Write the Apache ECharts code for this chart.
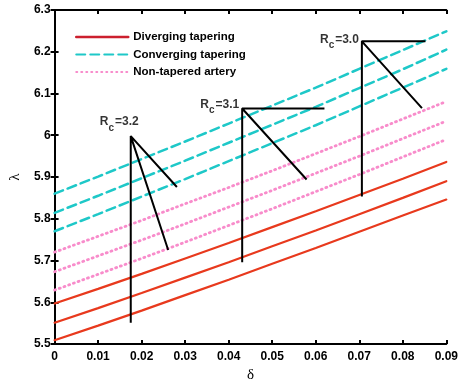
<!DOCTYPE html>
<html><head><meta charset="utf-8">
<script src="https://cdn.jsdelivr.net/npm/echarts@6/dist/echarts.min.js"></script>
<style>html,body{margin:0;padding:0;background:#fff}#c{width:461px;height:388px}</style>
</head><body><div id="c"></div>
<script>
var delta = [0, 0.01, 0.02, 0.03, 0.04, 0.05, 0.06, 0.07, 0.08, 0.09];
var xTicks = ['0','0.01','0.02','0.03','0.04','0.05','0.06','0.07','0.08','0.09'];
var yTicks = ['5.5','5.6','5.7','5.8','5.9','6','6.1','6.2','6.3'];
// Diverging tapering (red solid)
var div1 = [5.597, 5.632, 5.668, 5.705, 5.742, 5.780, 5.818, 5.857, 5.896, 5.936];
var div2 = [5.551, 5.586, 5.622, 5.659, 5.696, 5.734, 5.772, 5.811, 5.850, 5.890];
var div3 = [5.509, 5.544, 5.580, 5.617, 5.654, 5.692, 5.730, 5.769, 5.808, 5.846];
// Converging tapering (cyan dashed)
var con1 = [5.860, 5.901, 5.943, 5.985, 6.028, 6.071, 6.114, 6.159, 6.204, 6.249];
var con2 = [5.814, 5.855, 5.897, 5.939, 5.982, 6.025, 6.068, 6.113, 6.158, 6.205];
var con3 = [5.770, 5.811, 5.853, 5.895, 5.938, 5.981, 6.024, 6.069, 6.114, 6.159];
// Non-tapered artery (pink dotted)
var non1 = [5.720, 5.758, 5.796, 5.836, 5.875, 5.915, 5.956, 5.997, 6.039, 6.081];
var non2 = [5.673, 5.711, 5.749, 5.788, 5.828, 5.868, 5.909, 5.950, 5.992, 6.034];
var non3 = [5.629, 5.667, 5.705, 5.744, 5.784, 5.824, 5.865, 5.906, 5.948, 5.990];
// Annotation pointer lines (delta, lambda)
var rc32Lines = [[0.0175, 5.551], [0.0175, 5.998], [0.0281, 5.876], [0.0175, 5.998], [0.0261, 5.725]];
var rc31Lines = [[0.0431, 5.696], [0.0431, 6.064], [0.0620, 6.064], [0.0431, 6.064], [0.0579, 5.894]];
var rc30Lines = [[0.0706, 5.853], [0.0706, 6.225], [0.0852, 6.225], [0.0706, 6.225], [0.0844, 6.065]];
var rcLabels = ['3.2', '3.1', '3.0'];
var rcVertex = [[0.0175, 5.998], [0.0431, 6.064], [0.0706, 6.225]];

var RED = '#e8391d', CYAN = '#1ec8c8', PINK = '#f88ccb';
var NOFILL = {color:'rgba(0,0,0,0)', borderWidth:0, opacity:0};
function pairs(v){ return delta.map(function(d,i){ return [d, v[i]]; }); }
function mk(name, v, color, type, width){
  return {name:name, type:'line', data:pairs(v), symbol:'none', smooth:false,
    lineStyle:{color:color, width:width, type:type, cap:'round'}, itemStyle:{color:color}, z:2};
}
function ann(name, pts){
  return {name:name, type:'line', data:pts, symbol:'none',
    lineStyle:{color:'#000', width:2}, itemStyle:{color:'#000'}, z:3};
}
var labelOffsets = [[8,-14],[-3,-4],[-3,-2]];
var series = [
  mk('Diverging tapering', div1, RED, 'solid', 2.2),
  mk('Diverging tapering', div2, RED, 'solid', 2.2),
  mk('Diverging tapering', div3, RED, 'solid', 2.2),
  mk('Converging tapering', con1, CYAN, [9,5], 2.5),
  mk('Converging tapering', con2, CYAN, [9,5], 2.5),
  mk('Converging tapering', con3, CYAN, [9,5], 2.5),
  mk('Non-tapered artery', non1, PINK, [1,4], 2.8),
  mk('Non-tapered artery', non2, PINK, [1,4], 2.8),
  mk('Non-tapered artery', non3, PINK, [1,4], 2.8),
  ann('a1', rc32Lines), ann('a2', rc31Lines), ann('a3', rc30Lines),
  {name:'labels', type:'scatter', symbolSize:0, z:5,
    data: rcVertex.map(function(p,i){ return {value:p, rc:rcLabels[i],
      label:{offset:labelOffsets[i]}}; }),
    label:{show:true, position:'left', distance:0,
      formatter:function(p){ return '{r|R}{s|c}{r|=' + p.data.rc + '}'; },
      rich:{
        r:{fontFamily:'Liberation Sans', fontWeight:'bold', fontSize:12, color:'#000', lineHeight:16},
        s:{fontFamily:'Liberation Sans', fontWeight:'bold', fontSize:10, color:'#000', padding:[12,1,0,0], lineHeight:16}
      }}
  }
];
var axisFont = {fontFamily:'Liberation Sans', fontWeight:'bold', fontSize:12, color:'#000'};
var chart = echarts.init(document.getElementById('c'), null, {renderer:'canvas'});
chart.setOption({
  animation:false,
  backgroundColor:'#fff',
  grid:{left:49, right:13, top:10, bottom:41, containLabel:false},
  legend:{
    left:70, top:26, orient:'vertical', itemWidth:52, itemHeight:10, itemGap:5.5,
    itemStyle:NOFILL,
    textStyle:{fontFamily:'Liberation Sans', fontWeight:'bold', fontSize:11.5, color:'#000'},
    data:[
      {name:'Diverging tapering', itemStyle:NOFILL, lineStyle:{color:'#cc1f2e', width:2.5}},
      {name:'Converging tapering', itemStyle:NOFILL},
      {name:'Non-tapered artery', itemStyle:NOFILL}
    ]
  },
  xAxis:[
    {type:'value', min:0, max:0.09, interval:0.01, position:'bottom',
      name:'δ', nameLocation:'middle', nameGap:24,
      nameTextStyle:{fontFamily:'Liberation Serif', fontSize:15, color:'#000'},
      axisLine:{lineStyle:{color:'#000', width:2}},
      axisTick:{inside:true, length:4, lineStyle:{color:'#000', width:2}},
      axisLabel:Object.assign({margin:7, formatter:function(v){ return xTicks[Math.round(v*100)]; }}, axisFont),
      splitLine:{show:false}},
    {type:'value', min:0, max:0.09, interval:0.01, position:'top',
      axisLine:{lineStyle:{color:'#000', width:2}},
      axisTick:{inside:true, length:4, lineStyle:{color:'#000', width:2}},
      axisLabel:{show:false}, splitLine:{show:false}}
  ],
  yAxis:[
    {type:'value', min:5.5, max:6.3, interval:0.1, position:'left',
      name:'λ', nameLocation:'middle', nameGap:25, nameRotate:90,
      nameTextStyle:{fontFamily:'Liberation Serif', fontSize:15, color:'#000'},
      axisLine:{show:true, lineStyle:{color:'#000', width:2}},
      axisTick:{show:true, inside:true, length:4, lineStyle:{color:'#000', width:2}},
      axisLabel:Object.assign({margin:4, formatter:function(v){ return yTicks[Math.round((v-5.5)*10)]; }}, axisFont),
      splitLine:{show:false}},
    {type:'value', min:5.5, max:6.3, interval:0.1, position:'right',
      axisLine:{show:true, lineStyle:{color:'#000', width:2}},
      axisTick:{show:true, inside:true, length:4, lineStyle:{color:'#000', width:2}},
      axisLabel:{show:false}, splitLine:{show:false}}
  ],
  series:series
});
</script></body></html>
